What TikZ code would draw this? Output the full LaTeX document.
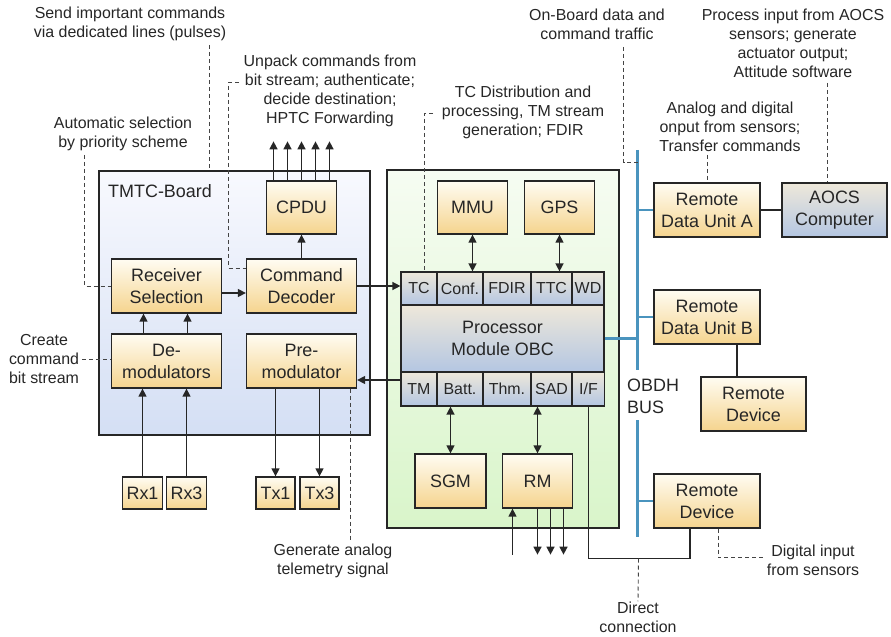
\documentclass[tikz,border=0pt]{standalone}
\usepackage{fontspec}
\setmainfont{Liberation Sans}
\usetikzlibrary{arrows.meta}
\definecolor{ink}{HTML}{262626}
\definecolor{dashink}{HTML}{444444}
\definecolor{bustone}{HTML}{4A94BE}
\definecolor{boxtop}{HTML}{FFFCF2}
\definecolor{boxbot}{HTML}{F5D48E}
\definecolor{celltop}{HTML}{EEE8DA}
\definecolor{cellbot}{HTML}{B4C6E2}
\definecolor{tmtctop}{HTML}{F8F9FE}
\definecolor{tmtcbot}{HTML}{D4DFF4}
\definecolor{obctop}{HTML}{F6FCF2}
\definecolor{obcbot}{HTML}{D9F5CA}
\begin{document}
\begin{tikzpicture}[x=1bp,y=-1bp,
  every node/.style={text=ink},
  panel/.style={draw=ink, line width=1.3bp, inner sep=0pt},
  box/.style={draw=ink, line width=1.3bp, inner sep=0pt, top color=boxtop, bottom color=boxbot,
    align=center, font=\fontsize{18}{22}\selectfont},
  cell/.style={draw=ink, line width=1.2bp, inner sep=0pt, top color=celltop, bottom color=cellbot,
    align=center, font=\fontsize{16}{19}\selectfont},
  note/.style={align=center, inner sep=0pt, font=\fontsize{16}{19}\selectfont},
  arr/.style={draw=ink, line width=1.4bp, -{Triangle[length=8bp,width=8bp]}},
  darr/.style={draw=ink, line width=1.4bp, {Triangle[length=8bp,width=8bp]}-{Triangle[length=8bp,width=8bp]}},
  wire/.style={draw=ink, line width=1.4bp},
  dashline/.style={draw=dashink, line width=0.9bp, dash pattern=on 4bp off 3bp},
  bus/.style={draw=bustone, line width=3bp},
  buslink/.style={draw=bustone, line width=2.4bp}]
\useasboundingbox (0,0) rectangle (891,637);

% ---------- TMTC board ----------
\node[panel, top color=tmtctop, bottom color=tmtcbot, minimum width=271bp, minimum height=264bp] (tmtc) at (234.5,303) {};
\node[anchor=west, inner sep=0pt, font=\fontsize{18}{22}\selectfont] (tmtclbl) at (108,191) {TMTC-Board};
\node[box, minimum width=70bp, minimum height=53bp] (cpdu) at (301.5,207.5) {CPDU};
\node[box, minimum width=110bp, minimum height=54bp] (recsel) at (166.5,286) {Receiver\\Selection};
\node[box, minimum width=110bp, minimum height=54bp] (cmddec) at (301.5,286) {Command\\Decoder};
\node[box, minimum width=110bp, minimum height=54bp] (demod) at (166.5,361) {De-\\modulators};
\node[box, minimum width=110bp, minimum height=54bp] (premod) at (301.5,361) {Pre-\\modulator};
\node[box, minimum width=40bp, minimum height=32bp] (rx1) at (142.5,493) {Rx1};
\node[box, minimum width=40bp, minimum height=32bp] (rx3) at (186.5,493) {Rx3};
\node[box, minimum width=39bp, minimum height=32bp] (tx1) at (275.5,493) {Tx1};
\node[box, minimum width=39bp, minimum height=32bp] (tx3) at (319.5,493) {Tx3};

% ---------- OBC ----------
\node[panel, top color=obctop, bottom color=obcbot, minimum width=232bp, minimum height=358bp] (obc) at (503,349) {};
\node[box, minimum width=70bp, minimum height=53bp] (mmu) at (472.5,207.5) {MMU};
\node[box, minimum width=70bp, minimum height=53bp] (gps) at (559.5,207.5) {GPS};
\node[cell, minimum width=36bp, minimum height=33bp] (tc) at (419,288.5) {TC};
\node[cell, minimum width=46bp, minimum height=33bp] (conf) at (460,288.5) {Conf.};
\node[cell, minimum width=48bp, minimum height=33bp] (fdir) at (507,288.5) {FDIR};
\node[cell, minimum width=41bp, minimum height=33bp] (ttc) at (551.5,288.5) {TTC};
\node[cell, minimum width=32bp, minimum height=33bp] (wd) at (588,288.5) {WD};
\node[cell, font=\fontsize{18}{22}\selectfont, minimum width=203bp, minimum height=67bp] (proc) at (502.5,338.5) {Processor\\Module OBC};
\node[cell, minimum width=36bp, minimum height=34bp] (tm) at (419,389) {TM};
\node[cell, minimum width=46bp, minimum height=34bp] (batt) at (460,389) {Batt.};
\node[cell, minimum width=48bp, minimum height=34bp] (thm) at (507,389) {Thm.};
\node[cell, minimum width=41bp, minimum height=34bp] (sad) at (551.5,389) {SAD};
\node[cell, minimum width=32bp, minimum height=34bp] (iface) at (588.5,389) {I/F};
\node[box, minimum width=71bp, minimum height=54bp] (sgm) at (450.5,481) {SGM};
\node[box, minimum width=70bp, minimum height=54bp] (rm) at (537.5,481) {RM};

% ---------- remote units ----------
\node[box, minimum width=106bp, minimum height=54bp] (rdua) at (707,210) {Remote\\Data Unit A};
\node[box, top color=celltop, bottom color=cellbot, minimum width=105bp, minimum height=54bp] (aocs) at (834.5,210) {AOCS\\Computer};
\node[box, minimum width=106bp, minimum height=54bp] (rdub) at (707,317) {Remote\\Data Unit B};
\node[box, minimum width=105bp, minimum height=54bp] (devb) at (753.5,404) {Remote\\Device};
\node[box, minimum width=106bp, minimum height=54bp] (devc) at (707,501) {Remote\\Device};

% ---------- OBDH bus ----------
\coordinate (bustop) at (637.5,150);
\coordinate (busgapa) at (637.5,370);
\coordinate (busgapb) at (637.5,420);
\coordinate (busbot) at (637.5,537);
\draw[bus] (bustop) -- (busgapa);
\draw[bus] (busgapb) -- (busbot);
\node[anchor=west, align=left, inner sep=0pt, font=\fontsize{18}{22}\selectfont] (obdh) at (627,396) {OBDH\\BUS};
\draw[buslink] (proc.east) -- (proc.east -| bustop);
\draw[buslink] (rdua.west -| bustop) -- (rdua.west);
\draw[buslink] (rdub.west -| bustop) -- (rdub.west);
\draw[buslink] (devc.west -| bustop) -- (devc.west);
\draw[wire] (rdua.east) -- (aocs.west);
\draw[wire] ([xshift=30bp]rdub.south) -- ([xshift=30bp]rdub.south |- devb.north);

% ---------- signal flow ----------
\foreach \dx in {-28,-14,0,14,28}
  \draw[arr] ([xshift=\dx bp]cpdu.north) -- ++(0,-39);
\draw[arr] (cmddec.north) -- (cpdu.south);
\draw[arr] ([yshift=-7bp]recsel.east) -- ([yshift=-7bp]recsel.east -| cmddec.west);
\draw[arr] (cmddec.east) -- (cmddec.east -| tc.west);
\draw[arr] ([xshift=-23bp]demod.north) -- ([xshift=-23bp]recsel.south);
\draw[arr] ([xshift=21bp]demod.north) -- ([xshift=21bp]recsel.south);
\draw[arr] (rx1.north) -- (rx1.north |- demod.south);
\draw[arr] (rx3.north) -- (rx3.north |- demod.south);
\draw[arr] ([yshift=9bp]tm.west) -- ([yshift=9bp]tm.west -| premod.east);
\draw[arr] (tx1.north |- premod.south) -- (tx1.north);
\draw[arr] (tx3.north |- premod.south) -- (tx3.north);
\draw[darr] (mmu.south) -- (mmu.south |- conf.north);
\draw[darr] (gps.south) -- (gps.south |- ttc.north);
\draw[darr] (sgm.north |- batt.south) -- (sgm.north);
\draw[darr] (rm.north |- sad.south) -- (rm.north);
\draw[arr] ([xshift=-25bp]rm.south) ++(0,46) -- ([xshift=-25bp]rm.south);
\foreach \dx in {0,13,26}
  \draw[arr] ([xshift=\dx bp]rm.south) -- ++(0,46);
\coordinate (direct) at (638.5,558.5);
\draw[wire] (iface.south) -- (iface.south |- direct) -| ([xshift=-17bp]devc.south);

% ---------- annotations ----------
\node[note] (send) at (130,24) {Send important commands\\via dedicated lines (pulses)};
\node[note] (unpack) at (330,91) {Unpack commands from\\bit stream; authenticate;\\decide destination;\\HPTC Forwarding};
\node[note] (autosel) at (123,134) {Automatic selection\\by priority scheme};
\node[note] (create) at (44,359) {Create\\command\\bit stream};
\node[note] (tcdist) at (523,112) {TC Distribution and\\processing, TM stream\\generation; FDIR};
\node[note] (onboard) at (597,24) {On-Board data and\\command traffic};
\node[note] (process) at (793,43.5) {Process input from AOCS\\sensors; generate\\actuator output;\\Attitude software};
\node[note] (analog) at (730,127) {Analog and digital\\onput from sensors;\\Transfer commands};
\node[note] (generate) at (333,560.5) {Generate analog\\telemetry signal};
\node[note] (directlbl) at (638,617) {Direct\\connection};
\node[note] (digital) at (813,560) {Digital input\\from sensors};

\draw[dashline] (209.5,45) -- (209.5,0 |- tmtc.north);
\draw[dashline] (239,82.5) -- (228.5,82.5) |- ([yshift=18bp]cmddec.west);
\draw[dashline] (84.5,155) |- (recsel.west);
\draw[dashline] ([xshift=3bp]create.east) -- (create.east -| demod.west);
\draw[dashline] (433,113.5) -- (424.5,113.5) -- (424.5,0 |- tc.north);
\draw[dashline] (623.5,47) |- (bustop |- 0,162.5);
\draw[dashline] (827.5,83) -- (827.5,0 |- aocs.north);
\draw[dashline] (rdua.north |- 0,155) -- (rdua.north);
\draw[dashline] ([xshift=49bp]premod.south) -- ++(0,152);
\draw[dashline] (direct) -- (directlbl.north);
\draw[dashline] ([xshift=11bp]devc.south) |- (766,557.5);
\end{tikzpicture}
\end{document}
